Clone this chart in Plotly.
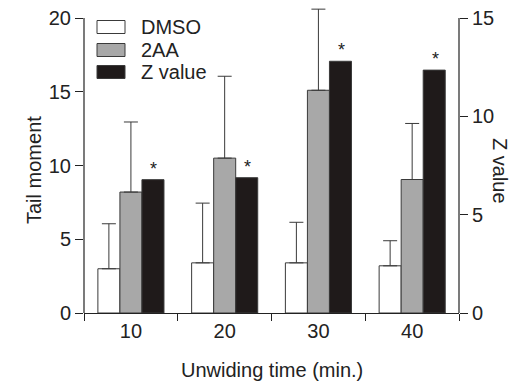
import plotly.graph_objects as go

categories = ["10", "20", "30", "40"]
dmso_mean = [3.0, 3.4, 3.4, 3.2]
dmso_sd = [3.05, 4.05, 2.75, 1.7]
aa_mean = [8.2, 10.5, 15.1, 9.05]
aa_sd = [4.75, 5.55, 5.5, 3.8]
z_value = [6.78, 6.88, 12.8, 12.35]
zero = [0, 0, 0, 0]
legend_names = ["DMSO", "2AA", "Z value"]

FONT = "Liberation Sans, Arial, sans-serif"
FS = 20
W = 0.235
edge = "#3a3a3a"
ink = "#222222"

# page body has an 8px margin: window coords -> figure coords
OFF = 8
X0, X1 = 84, 459      # plot area in window pixels
Y0, Y1 = 8, 313


def px(wx):
    return (wx - X0) / (X1 - X0)


def py(wy):
    return (Y1 - wy) / (Y1 - Y0)


YMAX = (Y1 - Y0) / 14.75

fig = go.Figure()
fig.add_trace(go.Bar(x=categories, y=dmso_mean, name="DMSO", width=W, offset=-0.352,
                     marker=dict(color="white", line=dict(color=edge, width=1)),
                     error_y=dict(type="data", array=dmso_sd, arrayminus=zero, symmetric=False,
                                  color=edge, thickness=1, width=7)))
fig.add_trace(go.Bar(x=categories, y=aa_mean, name="2AA", width=W, offset=-0.117,
                     marker=dict(color="#a8a8a8", line=dict(color=edge, width=1)),
                     error_y=dict(type="data", array=aa_sd, arrayminus=zero, symmetric=False,
                                  color=edge, thickness=1, width=7)))
fig.add_trace(go.Bar(x=categories, y=z_value, name="Z value", width=W, offset=0.118,
                     marker=dict(color="#1f1a1a", line=dict(color=edge, width=1)),
                     yaxis="y2"))

# asterisks above Z-value bars
for i, v in enumerate(z_value):
    fig.add_annotation(x=i + 0.245, y=v, xref="x", yref="y2", text="*", showarrow=False,
                       yanchor="bottom", yshift=-1, font=dict(family=FONT, size=18, color=ink))

# custom legend
leg_y = [27, 50, 72]
leg_fill = ["white", "#a8a8a8", "#1f1a1a"]
for name, yy, col in zip(legend_names, leg_y, leg_fill):
    fig.add_shape(type="rect", xref="paper", yref="paper",
                  x0=px(97), x1=px(125), y0=py(yy + 6.5), y1=py(yy - 6.5),
                  fillcolor=col, line=dict(color=edge, width=1))
    fig.add_annotation(xref="paper", yref="paper", x=px(139), y=py(yy),
                       text=name, showarrow=False, xanchor="left", yanchor="middle",
                       font=dict(family=FONT, size=FS, color=ink))

# axis lines limited to tick range
fig.add_shape(type="line", xref="paper", yref="y", x0=0, x1=0, y0=0, y1=20,
              line=dict(color=ink, width=1.2))
fig.add_shape(type="line", xref="paper", yref="y", x0=1, x1=1, y0=0, y1=20,
              line=dict(color=ink, width=1.2))

# axis titles
fig.add_annotation(xref="paper", yref="paper", x=px(21), y=py(170),
                   text="Tail moment", textangle=-90, showarrow=False,
                   font=dict(family=FONT, size=FS, color=ink))
fig.add_annotation(xref="paper", yref="paper", x=px(513), y=py(171),
                   text="Z value", textangle=90, showarrow=False,
                   font=dict(family=FONT, size=FS, color=ink))
fig.add_annotation(xref="paper", yref="paper", x=px(271.5), y=py(370),
                   text="Unwiding time (min.)", showarrow=False, yanchor="middle",
                   font=dict(family=FONT, size=FS, color=ink))

fig.update_layout(
    width=528 - OFF, height=383 - OFF,
    margin=dict(l=X0 - OFF, r=528 - X1, t=Y0 - OFF, b=383 - Y1, autoexpand=False),
    paper_bgcolor="white", plot_bgcolor="white",
    showlegend=False,
    font=dict(family=FONT, size=FS, color=ink),
    xaxis=dict(type="category", range=[-0.5, 3.5], showline=True, linecolor=ink, linewidth=1.2,
               ticks="outside", tickson="boundaries", ticklen=7, tickcolor=ink,
               showgrid=False, zeroline=False, automargin=False),
    yaxis=dict(range=[0, YMAX], tickvals=[0, 5, 10, 15, 20], ticks="outside", ticklen=8,
               tickcolor=ink, showline=False, showgrid=False, zeroline=False, automargin=False,
               ticklabeloverflow="allow"),
    yaxis2=dict(range=[0, YMAX * 0.75], tickvals=[0, 5, 10, 15], ticks="outside", ticklen=8,
                tickcolor=ink, overlaying="y", side="right", showline=False,
                showgrid=False, zeroline=False, automargin=False,
                ticklabeloverflow="allow"),
)

fig.write_html("out.html")
